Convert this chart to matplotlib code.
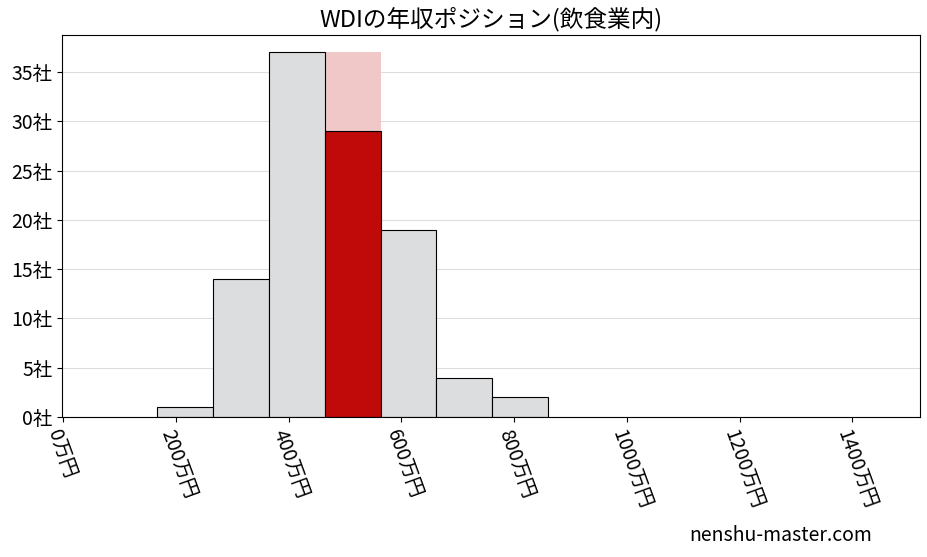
import numpy as np
import matplotlib.pyplot as plt

plt.rcParams['font.family'] = ['Noto Sans CJK JP', 'DejaVu Sans']

# 年収の階級(万円)と社数
edges = [167, 266, 365, 464, 563, 662, 761, 860]
counts = [1, 14, 37, 29, 19, 4, 2]
highlight = 3  # WDIが属する階級
xticks = [0, 200, 400, 600, 800, 1000, 1200, 1400]
yticks = [0, 5, 10, 15, 20, 25, 30, 35]

fig = plt.figure(figsize=(9.28, 5.57), dpi=100)
ax = fig.add_axes([62 / 928, 1 - 417 / 557, 858 / 928, 382 / 557])

lefts = np.array(edges[:-1])
widths = np.diff(edges)
colors = ['#dcdddf'] * len(counts)
colors[highlight] = '#c00a0a'
# 背景の薄い赤(最大値まで)
ax.bar(lefts[highlight], max(counts), width=widths[highlight], align='edge',
       color='#f0c8c8', zorder=1)
ax.bar(lefts, counts, width=widths, align='edge', color=colors,
       edgecolor='black', linewidth=0.8, zorder=2)

ax.set_xlim(-2, 1520)
ax.set_ylim(0, 38.75)
ax.set_xticks(xticks)
ax.set_xticklabels([f'{v}万円' for v in xticks], rotation=-70, fontsize=14,
                   ha='left', va='top', rotation_mode='anchor')
ax.set_yticks(yticks)
ax.set_yticklabels([f'{v}社' for v in yticks], fontsize=14)
ax.grid(axis='y', color='#dddddd', linewidth=0.8, zorder=0)
ax.set_axisbelow(True)
ax.set_title('WDIの年収ポジション(飲食業内)', fontsize=17)
fig.text(0.94, 0.02, 'nenshu-master.com', fontsize=14, ha='right', va='bottom')

fig.savefig('out.png', dpi=100)
